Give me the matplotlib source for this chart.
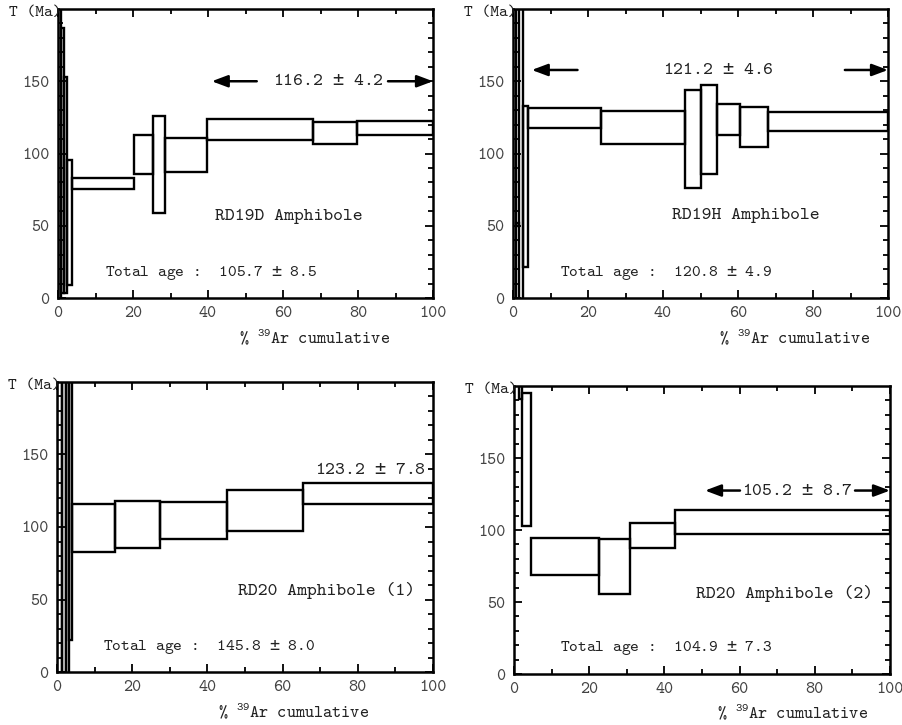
import numpy as np
import matplotlib
matplotlib.use("Agg")
import matplotlib.pyplot as plt

plt.rcParams["font.family"] = ["cmtt10", "DejaVu Sans Mono"]
plt.rcParams["mathtext.fontset"] = "custom"
plt.rcParams["mathtext.rm"] = "cmtt10"
plt.rcParams["mathtext.sf"] = "DejaVu Sans Mono"
plt.rcParams["axes.unicode_minus"] = False

# Step heating spectra: cumulative %39Ar edges, lower / upper age of each step (Ma)
# steps that run off the chart are given values outside 0-200
d19_cum = [0, 0.9, 1.6, 2.4, 3.6, 20.3, 25.2, 28.4, 39.8, 68.1, 79.8, 100]
d19_lo = [-50, 3.5, 3.5, 9, 75.2, 85.8, 58.6, 87.4, 109.3, 106.3, 113.0]
d19_hi = [300, 187, 153, 95.5, 82.8, 112.8, 126.0, 110.5, 123.6, 121.8, 122.5]

h19_cum = [0, 0.7, 1.6, 2.6, 4.1, 23.4, 45.9, 50.2, 54.3, 60.6, 68.0, 100]
h19_lo = [-50, 49.5, -50, 21.7, 117.4, 106.3, 76.3, 85.6, 112.6, 104.7, 115.8]
h19_hi = [300, 52.0, 300, 132.8, 131.7, 129.4, 143.9, 147.1, 134.0, 132.4, 128.7]

a20_cum = [0, 1.2, 2.5, 3.1, 4.1, 15.4, 27.4, 45.1, 65.5, 100]
a20_lo = [-50, -50, -50, 21.9, 82.5, 85.3, 91.5, 97.2, 115.7]
a20_hi = [300, 300, 300, 300, 115.7, 118.0, 117.3, 125.4, 130.4]

b20_cum = [0, 1.4, 2.0, 4.4, 22.5, 30.8, 42.8, 100]
b20_lo = [210, 190.8, 103.1, 69.0, 55.8, 87.4, 96.9]
b20_hi = [300, 300, 195.0, 94.3, 93.8, 104.6, 114.2]

names = ["RD19D Amphibole", "RD19H Amphibole", "RD20 Amphibole (1)", "RD20 Amphibole (2)"]
total_ages = [("105.7", "8.5"), ("120.8", "4.9"), ("145.8", "8.0"), ("104.9", "7.3")]
plateaus = [("116.2", "4.2"), ("121.2", "4.6"), ("123.2", "7.8"), ("105.2", "8.7")]


def pm(v):
    return v[0] + r" $\mathsf{\pm}$ " + v[1]


fig = plt.figure(figsize=(9.02, 7.25), dpi=100)
W, H = 902, 725


def make_ax(l, t, r, b):
    return fig.add_axes([l / W, 1 - b / H, (r - l) / W, (b - t) / H])


axes = [make_ax(58, 9, 433, 298), make_ax(513, 9, 888, 298),
        make_ax(57, 382, 433, 672), make_ax(514, 386, 890, 674)]
data = [(d19_cum, d19_lo, d19_hi), (h19_cum, h19_lo, h19_hi),
        (a20_cum, a20_lo, a20_hi), (b20_cum, b20_lo, b20_hi)]

for ax, (cum, lo, hi) in zip(axes, data):
    cum = np.array(cum)
    lo = np.array(lo)
    hi = np.array(hi)
    ax.bar(cum[:-1], hi - lo, bottom=lo, width=np.diff(cum), align="edge",
           facecolor="none", edgecolor="black", linewidth=1.7, zorder=2)
    ax.set_xlim(0, 100)
    ax.set_ylim(0, 200)
    ax.set_xticks(np.arange(0, 101, 20))
    ax.set_xticks(np.arange(0, 101, 10), minor=True)
    ax.set_yticks([0, 50, 100, 150])
    ax.set_yticks(np.arange(0, 200, 10), minor=True)
    ax.tick_params(which="both", direction="in", top=True, right=True,
                   labelsize=12.5, labelcolor="#444444", width=1.3)
    ax.tick_params(which="major", length=6, pad=6)
    ax.tick_params(which="minor", length=3.5)
    for s in ax.spines.values():
        s.set_linewidth(1.8)
    ax.text(0.008, 0.985, "T (Ma)", transform=ax.transAxes, ha="right",
            va="center", fontsize=12, color="#222222")

xl_pos = [0.685, 0.75, 0.63, 0.74]
for ax, xp in zip(axes, xl_pos):
    ax.text(xp, -0.138, r"% $^{39}$Ar cumulative", transform=ax.transAxes,
            ha="center", va="center", fontsize=12.5, color="#222222")

name_pos = [(61.6, 56.3), (62, 57.4), (71.8, 56), (72, 56)]
total_pos = [(12.5, 17.5), (12.5, 17.5), (12.2, 17.3), (12.2, 18)]
for ax, nm, (nx, ny), ta, (tx, ty) in zip(axes, names, name_pos, total_ages, total_pos):
    ax.text(nx, ny, nm, ha="center", va="center", fontsize=13.5, color="#222222")
    ax.text(tx, ty, "Total age :  " + pm(ta), ha="left", va="center", fontsize=12,
            color="#222222")

# plateau ages with arrows (left tip, left tail, text centre, right tail, y)
arrows = [(41, 53, 72, 88, 150), (5, 17.2, 54.7, 88.5, 157.8), None, (50.8, 60.1, 75.5, 90.7, 127.4)]
for ax, pl, ar in zip(axes, plateaus, arrows):
    if ar is None:
        ax.text(98.2, 139.4, pm(pl), ha="right", va="center", fontsize=13.5, color="#222222")
        continue
    tip, tail, tc, rt, y = ar
    ap = dict(arrowstyle="-|>,head_length=0.8,head_width=0.3", lw=1.8, color="black",
              shrinkA=0, shrinkB=0, mutation_scale=12)
    ax.annotate("", xy=(tip, y), xytext=(tail, y), arrowprops=ap)
    ax.annotate("", xy=(100, y), xytext=(rt, y), arrowprops=ap)
    ax.text(tc, y, pm(pl), ha="center", va="center", fontsize=13.5, color="#222222")

fig.savefig("out.png", dpi=100)
